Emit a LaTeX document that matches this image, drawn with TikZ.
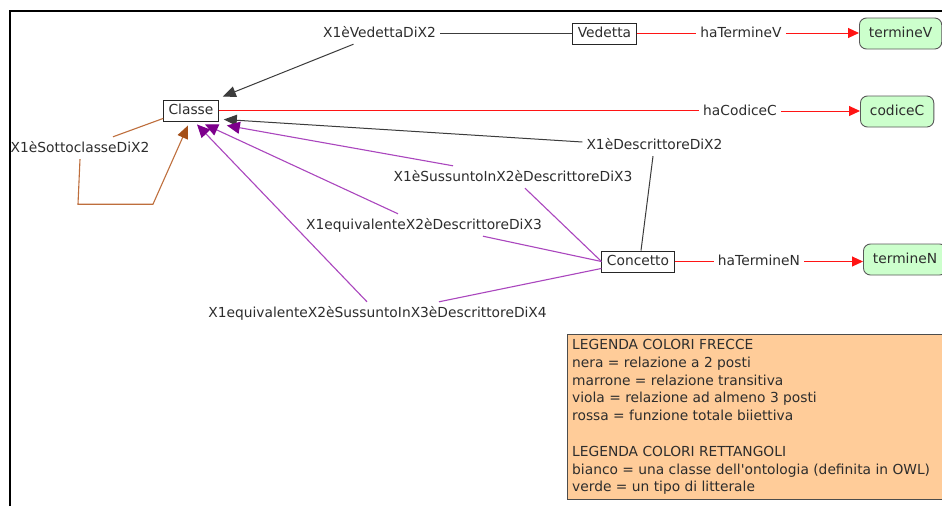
\documentclass[tikz,border=0pt]{standalone}
\usepackage{fontspec}
\setmainfont{DejaVu Sans}
\usetikzlibrary{arrows.meta,calc}
\definecolor{txt}{RGB}{45,45,45}
\definecolor{lnk}{RGB}{60,60,60}
\definecolor{rdl}{RGB}{255,20,20}
\definecolor{prpL}{RGB}{170,70,190}
\definecolor{prpH}{RGB}{125,0,140}
\definecolor{brnL}{RGB}{190,110,60}
\definecolor{brnH}{RGB}{165,80,25}
\definecolor{litgreen}{RGB}{204,255,204}
\definecolor{legfill}{RGB}{255,204,153}
\begin{document}
\begin{tikzpicture}[x=1pt,y=-1pt,
  every node/.style={font=\fontsize{13.8}{17.8}\selectfont, text=txt},
  lbl/.style={inner xsep=4pt, inner ysep=0pt, text height=10pt, text depth=2pt, minimum height=22pt},
  cls/.style={draw=black!85, line width=0.9pt, fill=white, minimum height=21pt, inner xsep=5pt, inner ysep=0pt, text height=10pt, text depth=2pt},
  lit/.style={draw=black!65, line width=0.9pt, fill=litgreen, rounded corners=7pt, minimum height=31pt, inner xsep=9.5pt, inner ysep=0pt, text height=10pt, text depth=2pt},
  blk/.style={draw=lnk, line width=1pt},
  rd/.style={draw=rdl, line width=1pt},
  prp/.style={draw=prpL, line width=1.1pt},
  brn/.style={draw=brnL, line width=1.1pt},
  arr/.style={-{Triangle[length=13pt,width=11pt]}},
  rarr/.style={-{Triangle[length=11pt,width=10pt]}},
  parr/.style={-{Triangle[length=13pt,width=12pt,color=prpH]}},
  barr/.style={-{Triangle[length=13pt,width=11pt,color=brnH]}}
]
\useasboundingbox (0,0) rectangle (942,506);
\fill[white] (0,0) rectangle (942,506);
\draw[line width=1.4pt, black] (10,506) -- (10,11) -- (942,11);

% boxes
\node[cls] (classe) at (191,110.5) {Classe};
\node[cls] (vedetta) at (604.5,33.5) {Vedetta};
\node[cls] (concetto) at (638,261.5) {Concetto};
\node[lit, anchor=west] (termineV) at (859,33.5) {termineV};
\node[lit, anchor=west] (codiceC) at (860,111.5) {codiceC};
\node[lit, anchor=west] (termineN) at (863,259.5) {termineN};

% labels
\node[lbl] (lVed) at (379.5,33) {X1èVedettaDiX2};
\node[lbl] (lhTV) at (741,33) {haTermineV};
\node[lbl] (lhCC) at (740,111) {haCodiceC};
\node[lbl] (lhTN) at (759,261.5) {haTermineN};
\node[lbl] (lSotto) at (80,148) {X1èSottoclasseDiX2};
\node[lbl] (lDesc) at (654.5,145) {X1èDescrittoreDiX2};
\node[lbl] (lSuss) at (513,177) {X1èSussuntoInX2èDescrittoreDiX3};
\node[lbl] (lEq) at (424,225) {X1equivalenteX2èDescrittoreDiX3};
\node[lbl] (lEqS) at (377.5,313) {X1equivalenteX2èSussuntoInX3èDescrittoreDiX4};

% black
\draw[blk] (lVed.east) -- (lVed.east -| vedetta.west);
\draw[blk, arr] ([xshift=-26pt]lVed.south) -- ([xshift=4pt,yshift=3pt]classe.north east);
\draw[blk] ([xshift=3pt]concetto.north) -- ([xshift=-1.5pt]lDesc.south);
\draw[blk, arr] ([yshift=3pt]lDesc.west) -- ([xshift=5pt,yshift=2pt]classe.south east);

% red
\draw[rd] (vedetta.east) -- (vedetta.east -| lhTV.west);
\draw[rd, rarr] (lhTV.east) -- (lhTV.east -| termineV.west);
\draw[rd] (classe.east) -- (classe.east -| lhCC.west);
\draw[rd, rarr] (lhCC.east) -- (lhCC.east -| codiceC.west);
\draw[rd] (concetto.east) -- (concetto.east -| lhTN.west);
\draw[rd, rarr] (lhTN.east) -- (lhTN.east -| termineN.west);

% brown
\draw[brn] ([yshift=3pt]classe.south west) -- ([xshift=33pt]lSotto.north);
\draw[brn, barr] (lSotto.south) -- ++(-2,45) -- ++(75,0) -- ([xshift=-3pt,yshift=-4pt]classe.south);

% purple
\draw[prp] (concetto.west) -- ([xshift=12pt]lSuss.south);
\draw[prp, parr] ([xshift=-60pt]lSuss.north) -- ([xshift=8pt,yshift=-4pt]classe.south east);
\draw[prp] (concetto.west) -- ([xshift=59pt]lEq.south);
\draw[prp, parr] ([xshift=-26pt]lEq.north) -- ([xshift=14pt,yshift=-3pt]classe.south);
\draw[prp] ([yshift=4pt]concetto.south west) -- ([xshift=61.5pt]lEqS.north);
\draw[prp, parr] ([xshift=-10.5pt]lEqS.north) -- ([xshift=6pt,yshift=-3pt]classe.south);

% legend
\node[draw=black!70, line width=1pt, fill=legfill, anchor=north west, minimum width=380pt, minimum height=165pt, inner sep=0pt] (legbox) at (567,334) {};
\node[anchor=north west, align=left, inner xsep=5pt, inner ysep=5pt] (legtxt) at (legbox.north west) {LEGENDA COLORI FRECCE\\
nera = relazione a 2 posti\\
marrone = relazione transitiva\\
viola = relazione ad almeno 3 posti\\
rossa = funzione totale biiettiva\\[17.8pt]
LEGENDA COLORI RETTANGOLI\\
bianco = una classe dell\textquotesingle ontologia (definita in OWL)\\
verde = un tipo di litterale};
\end{tikzpicture}
\end{document}
